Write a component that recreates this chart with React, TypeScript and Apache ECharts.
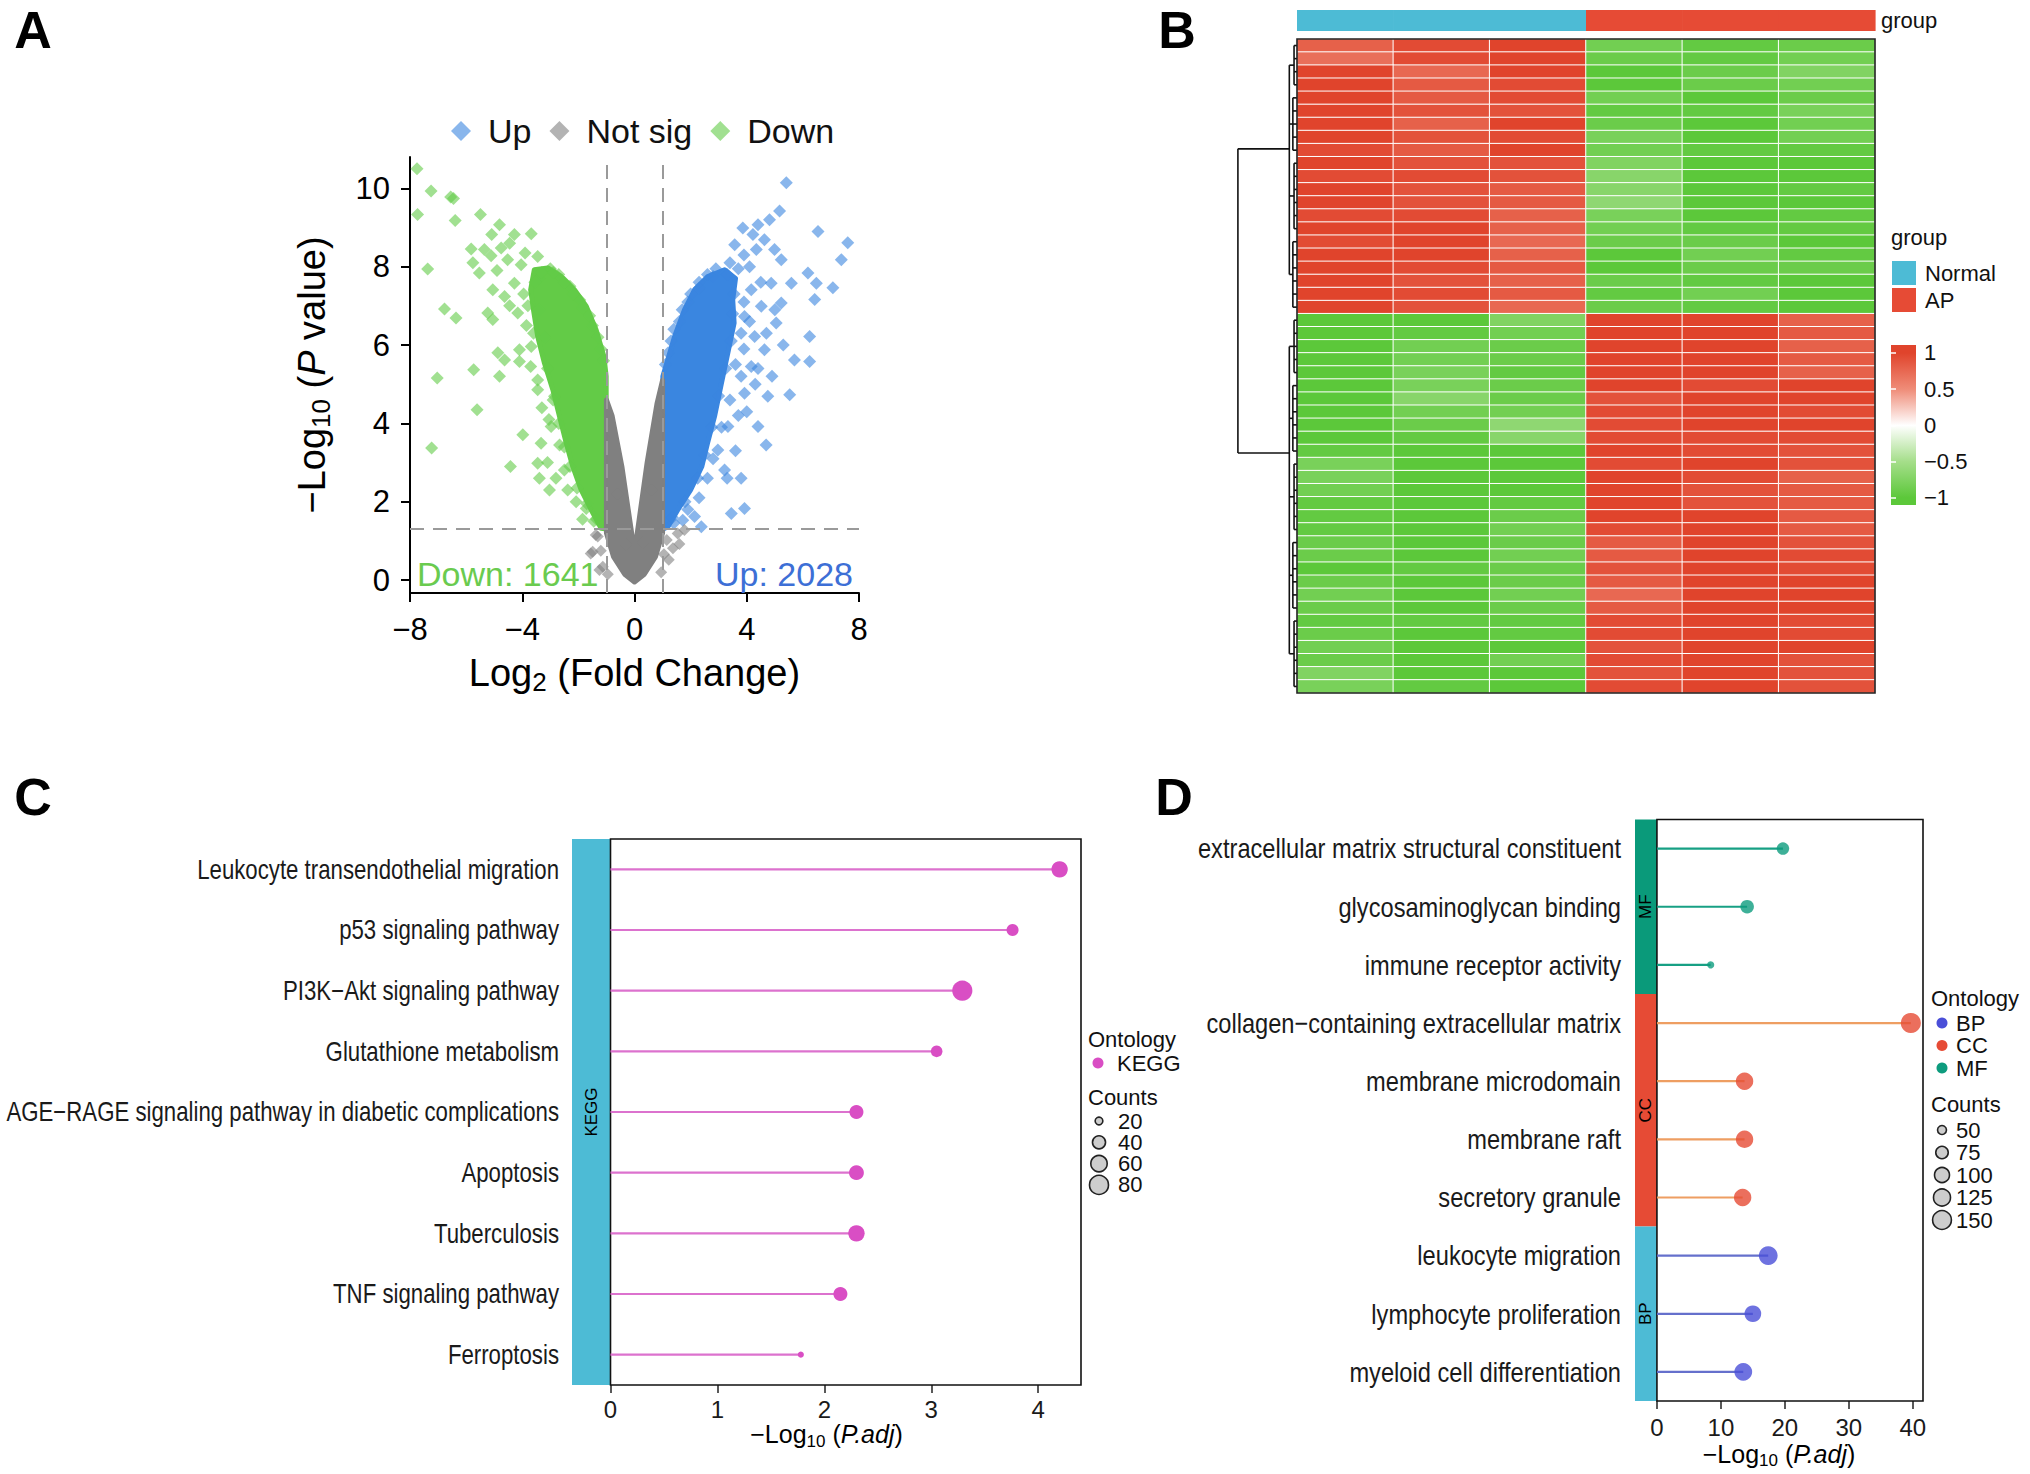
import React, { useEffect, useRef } from 'react';
import * as echarts from 'echarts';

const SANS = "'Liberation Sans', Arial, Helvetica, sans-serif";

// ---------------- Panel A : volcano ----------------
const volcanoLegend = ['Up', 'Not sig', 'Down'];
const upCount = 2028;
const downCount = 1641;
const fcCut = 1;
const pCut = 1.301;
const volcanoYTicks = [0, 2, 4, 6, 8, 10];

const downPoints = [
  [-7.75, 10.5], [-7.25, 9.93], [-6.55, 9.78], [-6.45, 9.74], [-7.73, 9.33], [-6.39, 9.18], [-5.49, 9.33],
  [-4.81, 9.07], [-5.09, 8.82], [-4.28, 8.82], [-3.68, 8.84], [-5.82, 8.45], [-5.35, 8.44], [-4.75, 8.48],
  [-4.45, 8.6], [-5.76, 8.1], [-5.53, 7.84], [-5.11, 8.28], [-4.52, 8.18], [-4.04, 8.05], [-3.45, 8.26],
  [-3.9, 8.35], [-7.37, 7.94], [-5.05, 7.41], [-4.63, 7.24], [-4.28, 7.58], [-4.9, 7.9], [-6.77, 6.92],
  [-6.36, 6.69], [-5.23, 6.82], [-5.05, 6.65], [-4.16, 6.82], [-4.45, 7.0], [-3.95, 7.3], [-3.85, 6.5],
  [-4.87, 5.8], [-4.63, 5.62], [-4.1, 5.88], [-4.1, 5.58], [-4.81, 5.2], [-5.73, 5.37], [-7.03, 5.16],
  [-3.68, 5.96], [-3.45, 5.11], [-3.45, 4.86], [-3.7, 5.45], [-3.3, 4.4], [-5.61, 4.35], [-3.98, 3.71],
  [-7.23, 3.37], [-4.42, 2.9], [-3.33, 3.49], [-3.45, 2.98], [-3.39, 2.6], [-3.03, 2.3], [-2.97, 3.92],
  [-2.67, 3.45], [-2.85, 4.69], [-3.05, 4.1], [-2.5, 2.81], [-2.38, 2.3], [-2.08, 2.0], [-1.72, 1.83],
  [-1.85, 1.55], [-1.45, 1.5], [-2.8, 2.6], [-3.1, 3.0], [-3.6, 6.3], [-3.8, 7.0], [-3.4, 7.7],
  [-3.0, 7.95], [-2.7, 7.8], [-2.3, 7.5], [-1.95, 7.15], [-1.6, 6.75], [-1.3, 6.2], [-1.1, 5.6],
  [-3.55, 7.6], [-3.3, 7.85], [-2.9, 7.85], [-2.5, 7.6], [-2.2, 7.3], [-1.85, 6.95], [-1.5, 6.5], [-1.2, 5.9],
  [-3.4, 6.9], [-3.2, 6.2], [-3.1, 5.4], [-2.9, 4.6], [-2.7, 4.0], [-2.5, 3.4], [-2.3, 2.9], [-2.05, 2.35],
  [-1.7, 1.95], [-1.35, 1.55],
];

const upPoints = [
  [5.41, 10.14], [5.17, 9.42], [3.86, 8.99], [4.4, 9.07], [4.81, 9.2], [6.54, 8.9], [7.6, 8.61], [7.37, 8.18],
  [3.57, 8.56], [4.22, 8.82], [4.63, 8.69], [4.34, 8.44], [4.99, 8.44], [5.23, 8.18], [6.18, 7.84], [6.48, 7.58],
  [7.07, 7.46], [6.42, 7.16], [5.59, 7.58], [5.23, 7.07], [5.05, 6.56], [5.7, 5.62], [6.24, 5.58], [6.24, 6.22],
  [5.53, 4.73], [4.75, 4.69], [4.69, 3.45], [4.4, 3.92], [3.8, 2.6], [3.45, 1.7], [3.92, 1.83], [2.14, 1.62],
  [2.38, 1.36], [1.72, 1.53], [2.97, 3.32], [3.21, 2.81], [3.92, 4.77], [4.16, 5.45], [4.63, 5.88], [4.28, 6.22],
  [3.92, 6.73], [4.52, 6.99], [4.87, 7.58], [4.16, 7.41], [3.33, 3.92], [3.9, 8.3], [4.1, 8.0], [3.7, 7.95],
  [3.4, 8.1], [2.9, 7.95], [2.6, 7.8], [2.3, 7.6], [2.0, 7.3], [1.7, 6.9], [1.4, 6.4], [1.2, 5.8], [3.9, 7.1],
  [3.8, 6.3], [3.6, 5.5], [3.4, 4.6], [3.1, 3.9], [2.8, 3.1], [2.6, 2.6], [2.3, 2.1], [1.9, 1.8], [1.4, 1.45],
  [4.3, 5.0], [4.0, 4.3], [3.6, 3.3], [3.3, 2.6], [4.5, 7.6], [5.0, 6.9], [4.7, 6.3], [4.4, 5.4], [3.7, 4.2],
  [4.9, 5.2], [5.3, 6.0], [1.1, 5.5], [1.3, 6.1], [1.6, 6.6], [1.9, 7.1], [2.3, 7.45], [2.8, 7.75], [3.3, 7.8],
  [3.55, 7.3], [3.5, 6.8], [3.45, 6.1], [3.25, 5.4], [3.0, 4.7], [2.75, 3.9], [2.5, 3.2], [2.25, 2.6],
  [1.8, 2.0], [1.35, 1.6], [3.9, 5.9], [4.1, 6.6], [3.8, 5.2],
];

const notSigPoints = [
  [-1.31, 1.11], [-1.49, 0.72], [-1.25, 0.26], [-1.13, 0.34], [-1.56, 0.68], [-1.38, 1.15], [-1.2, 0.75],
  [1.37, 0.81], [1.54, 1.19], [1.78, 1.28], [1.05, 0.66], [1.22, 0.52], [1.6, 0.92], [1.15, 1.02],
  [-0.95, 0.15], [0.95, 0.2], [-0.85, 3.8], [0.88, 4.2], [-0.6, 2.2], [0.6, 2.3], [-0.3, 0.9], [0.3, 0.95],
];

// outlines of the dense (overplotted) point clouds
const downCore = [
  [-3.57, 7.92], [-3.09, 7.97], [-2.61, 7.75], [-2.14, 7.41], [-1.72, 6.99], [-1.37, 6.39], [-1.09, 5.71],
  [-1.01, 5.2], [-1.0, 1.3], [-1.19, 1.32], [-1.54, 1.79], [-1.9, 2.3], [-2.2, 2.9], [-2.43, 3.49],
  [-2.67, 4.17], [-2.91, 4.86], [-3.21, 5.54], [-3.45, 6.22], [-3.6, 6.9], [-3.7, 7.41],
];
const upCore = [
  [1.01, 5.2], [1.43, 6.22], [1.78, 6.9], [2.14, 7.41], [2.61, 7.75], [3.21, 7.92], [3.6, 7.7], [3.5, 7.16],
  [3.55, 6.56], [3.35, 5.88], [3.1, 5.03], [2.85, 4.17], [2.6, 3.49], [2.4, 2.9], [2.0, 2.3], [1.54, 1.79],
  [1.19, 1.36], [1.01, 1.3],
];
const notSigCore = [
  [-1.0, 4.6], [-1.0, 1.2], [-0.75, 0.6], [-0.35, 0.15], [0, -0.05], [0.35, 0.15], [0.75, 0.6], [1.0, 1.2],
  [1.0, 5.1], [0.8, 4.5], [0.45, 3.0], [0.05, 0.95], [-0.05, 0.95], [-0.45, 2.9], [-0.8, 4.2],
];

// ---------------- Panel B : heatmap ----------------
const samples = ['N1', 'N2', 'N3', 'AP1', 'AP2', 'AP3'];
const sampleGroup = ['Normal', 'Normal', 'Normal', 'AP', 'AP', 'AP'];
const groupLevels = ['Normal', 'AP'];
const colorbarTicks = [-1, -0.5, 0, 0.5, 1];
const heatRows = [
  [0.8, 0.95, 1.05, -0.85, -0.95, -0.9],
  [0.7, 0.95, 1.15, -0.9, -0.95, -0.85],
  [1.1, 0.75, 1.0, -1.0, -0.9, -0.75],
  [1.05, 0.85, 0.95, -1.05, -0.9, -0.85],
  [1.0, 0.85, 0.95, -0.85, -1.1, -0.9],
  [1.05, 0.9, 0.9, -0.95, -0.95, -0.8],
  [1.05, 0.8, 1.0, -0.9, -1.05, -0.85],
  [1.0, 0.9, 0.95, -0.8, -1.1, -0.85],
  [0.95, 0.85, 1.0, -0.85, -0.95, -0.95],
  [1.0, 0.9, 0.9, -0.75, -1.0, -1.0],
  [0.95, 0.95, 0.9, -0.7, -1.05, -1.05],
  [1.0, 0.9, 0.85, -0.7, -1.0, -0.95],
  [1.05, 0.9, 0.85, -0.65, -1.05, -1.0],
  [0.95, 0.95, 0.8, -0.8, -1.0, -0.95],
  [1.0, 1.1, 0.8, -0.85, -0.95, -0.95],
  [0.95, 1.15, 0.75, -0.9, -0.9, -1.0],
  [1.0, 1.05, 0.8, -1.0, -0.85, -0.95],
  [1.05, 0.95, 0.85, -1.0, -0.9, -0.9],
  [1.1, 0.9, 0.8, -0.9, -0.95, -1.0],
  [1.05, 0.95, 0.85, -0.95, -0.85, -1.0],
  [1.05, 0.9, 0.75, -0.9, -0.95, -1.0],
  [-1.0, -1.0, -0.75, 1.1, 1.05, 0.8],
  [-1.0, -0.95, -0.85, 1.1, 1.0, 0.85],
  [-1.1, -0.85, -0.9, 1.15, 1.0, 0.8],
  [-1.0, -0.85, -0.9, 1.1, 1.05, 0.85],
  [-1.05, -0.8, -0.95, 1.1, 1.05, 0.8],
  [-1.05, -0.8, -0.9, 1.0, 0.95, 1.0],
  [-1.1, -0.7, -0.9, 0.9, 1.0, 1.05],
  [-1.05, -0.85, -0.85, 0.95, 1.0, 0.95],
  [-1.1, -0.9, -0.65, 0.95, 1.0, 1.05],
  [-1.0, -0.95, -0.7, 0.95, 0.95, 0.95],
  [-0.95, -1.0, -1.0, 1.0, 0.95, 0.9],
  [-0.8, -1.05, -1.05, 0.95, 1.0, 0.9],
  [-0.8, -1.0, -1.0, 1.1, 0.95, 0.8],
  [-0.85, -1.0, -1.0, 1.15, 0.9, 0.85],
  [-0.95, -1.0, -0.95, 1.1, 0.9, 0.85],
  [-0.95, -1.0, -0.9, 1.0, 1.05, 0.85],
  [-0.95, -1.05, -0.85, 0.95, 1.1, 0.85],
  [-0.9, -1.0, -0.9, 0.85, 1.15, 0.9],
  [-0.9, -1.05, -0.85, 0.85, 1.1, 0.95],
  [-1.0, -0.95, -0.9, 0.9, 1.05, 0.95],
  [-0.9, -1.0, -0.9, 0.85, 1.1, 1.0],
  [-0.85, -1.05, -0.85, 0.75, 1.05, 1.1],
  [-0.9, -1.0, -0.9, 0.85, 1.0, 1.05],
  [-0.95, -0.95, -0.95, 0.95, 1.0, 0.95],
  [-0.9, -1.0, -0.95, 0.95, 1.0, 0.95],
  [-0.85, -1.0, -1.0, 0.9, 1.0, 1.0],
  [-0.9, -1.05, -0.85, 0.95, 1.05, 0.9],
  [-0.75, -1.0, -1.0, 0.9, 1.1, 0.9],
  [-0.8, -0.95, -1.0, 0.95, 1.1, 0.9],
];
// row dendrogram: leaf groups (1-based rows), their merge heights, and the two clusters
const dendroGroups = [[1, 4], [5, 9], [10, 15], [16, 21], [22, 26], [27, 32], [33, 38], [39, 44], [45, 50]];
const dendroGroupH = [0.05, 0.07, 0.05, 0.07, 0.05, 0.07, 0.05, 0.07, 0.05];
const dendroClusters = [
  { groups: [0, 1, 2, 3], h: 0.13, join: 8.4 },
  { groups: [4, 5, 6, 7, 8], h: 0.13, join: 31.65 },
];
const dendroRootH = 1.0;

// ---------------- Panel C : KEGG ----------------
const keggTerms = [
  'Leukocyte transendothelial migration', 'p53 signaling pathway', 'PI3K\u2212Akt signaling pathway',
  'Glutathione metabolism', 'AGE\u2212RAGE signaling pathway in diabetic complications', 'Apoptosis',
  'Tuberculosis', 'TNF signaling pathway', 'Ferroptosis',
];
const keggLogP = [4.2, 3.76, 3.29, 3.05, 2.3, 2.3, 2.3, 2.15, 1.78];
const keggCounts = [60, 35, 90, 33, 45, 50, 60, 45, 17];
const keggTicks = [0, 1, 2, 3, 4];
const keggCountBreaks = [20, 40, 60, 80];

// ---------------- Panel D : GO ----------------
const goTerms = [
  'extracellular matrix structural constituent', 'glycosaminoglycan binding', 'immune receptor activity',
  'collagen\u2212containing extracellular matrix', 'membrane microdomain', 'membrane raft', 'secretory granule',
  'leukocyte migration', 'lymphocyte proliferation', 'myeloid cell differentiation',
];
const goOntology = ['MF', 'MF', 'MF', 'CC', 'CC', 'CC', 'CC', 'BP', 'BP', 'BP'];
const goLogP = [19.7, 14.1, 8.4, 39.7, 13.7, 13.7, 13.4, 17.4, 15.0, 13.5];
const goCounts = [75, 85, 42, 170, 130, 130, 130, 150, 120, 135];
const goTicks = [0, 10, 20, 30, 40];
const goCountBreaks = [50, 75, 100, 125, 150];
const ontologyLevels = ['BP', 'CC', 'MF'];

// ---------------- styles ----------------
const C_DOWN = '#63CB47';
const C_UP = '#3A86E0';
const C_NS = '#808080';
const GROUP_COLOR: Record<string, string> = { Normal: '#4DBBD5', AP: '#E64B35' };
const HEAT_COLORS = ['#5CC83A', '#A5DE8A', '#FFFFFF', '#EF8C78', '#E0442C'];
const HEAT_LIM = 1.0;
const KEGG_DOT = '#D94EC4';
const KEGG_LINE = '#DC72CE';
const ONT_DOT: Record<string, string> = { BP: '#4A4FD8', CC: '#E64B35', MF: '#0E9C7E' };
const ONT_LINE: Record<string, string> = { BP: '#6570CC', CC: '#EE9E62', MF: '#17A084' };
const ONT_STRIP: Record<string, string> = { BP: '#4DBBD5', CC: '#E64B35', MF: '#0A9A7A' };

const minus = (v: any) => String(v).replace('-', '\u2212');
const sizeC = (c: number) => 3.4 * (1 + 5 * Math.sqrt(Math.max(0, (c - 15) / 77)));
const sizeD = (c: number) => 3.4 * (1 + 5 * Math.sqrt(Math.max(0, (c - 35) / 140)));

function richTitle(size: number, sub: number, family: string) {
  return {
    n: { fontSize: size, fontFamily: family, color: '#000', lineHeight: size + 6 },
    i: { fontSize: size, fontFamily: family, color: '#000', fontStyle: 'italic', lineHeight: size + 6 },
    s: { fontSize: sub, fontFamily: family, color: '#000', lineHeight: Math.round(sub * 0.7), verticalAlign: 'bottom' },
  };
}

function polygonSeries(pts: number[][], color: string, z: number) {
  return {
    type: 'custom', xAxisIndex: 0, yAxisIndex: 0, z, silent: true, data: [[0, 0]],
    renderItem: (_p: any, api: any) => ({
      type: 'polygon',
      shape: { points: pts.map((p) => api.coord(p)) },
      style: { fill: color, stroke: color, lineWidth: 5, lineJoin: 'round' },
    }),
  };
}

// condensed category labels (the reference uses a narrow face)
function narrowLabels(xi: number, yi: number, terms: string[], size: number, scale: number, gap: number) {
  return {
    type: 'custom', xAxisIndex: xi, yAxisIndex: yi, silent: true, clip: false, z: 5,
    data: terms.map((_, i) => [0, i]),
    renderItem: (params: any, api: any) => {
      const i = api.value(1);
      const c = api.coord([0, i]);
      return {
        type: 'text', x: params.coordSys.x - gap, y: c[1], scaleX: scale,
        style: { text: terms[i], fontSize: size, fontFamily: SANS, fill: '#1a1a1a', align: 'right', verticalAlign: 'middle' },
      };
    },
  };
}

function buildDendroSegments() {
  const segs: number[][] = [];
  const mids: number[] = [];
  dendroGroups.forEach(([r1, r2], g) => {
    const h = dendroGroupH[g];
    for (let r = r1; r <= r2; r++) segs.push([0, r - 0.5, h, r - 0.5]);
    segs.push([h, r1 - 0.5, h, r2 - 0.5]);
    mids.push((r1 + r2) / 2 - 0.5);
  });
  dendroClusters.forEach((cl) => {
    const ms = cl.groups.map((g) => mids[g]);
    cl.groups.forEach((g) => segs.push([dendroGroupH[g], mids[g], cl.h, mids[g]]));
    segs.push([cl.h, Math.min(...ms), cl.h, Math.max(...ms)]);
    segs.push([cl.h, cl.join, dendroRootH, cl.join]);
  });
  segs.push([dendroRootH, dendroClusters[0].join, dendroRootH, dendroClusters[1].join]);
  return segs;
}

function buildOption() {
  const g = (left: number, top: number, width: number, height: number) =>
    ({ left, top, width, height, containLabel: false, outerBoundsMode: 'none' });
  const grid = [
    g(410, 157, 449, 436),
    g(1297, 39, 578, 654),
    g(1297, 10, 578, 21),
    g(1232, 39, 65, 654),
    g(1891, 345, 25, 160),
    g(572, 839, 509, 546),
    g(1635, 819.5, 288, 581.5),
  ];

  const lolliY = (terms: string[]) => ({
    type: 'category', data: terms, inverse: true,
    axisLine: { show: false },
    axisTick: { show: true, length: 8, alignWithLabel: true, lineStyle: { color: '#222', width: 1.5 } },
    axisLabel: { show: false },
    splitLine: { show: false },
  });
  const lolliX = (min: number, max: number, ticks: number[], gap: number, margin: number) => ({
    type: 'value', min, max,
    axisLine: { show: false, onZero: false },
    axisTick: { show: true, length: 8, customValues: ticks, lineStyle: { color: '#222', width: 1.5 } },
    axisLabel: { customValues: ticks, fontSize: 24, color: '#1a1a1a', margin },
    splitLine: { show: false },
    name: '{n|\u2212Log}{s|10}{n| (}{i|P.adj}{n|)}',
    nameLocation: 'middle', nameGap: gap,
    nameTextStyle: { rich: richTitle(25, 17, SANS) },
  });

  const xAxis: any[] = [
    {
      gridIndex: 0, type: 'value', min: -8, max: 8, interval: 4,
      axisLine: { onZero: false, lineStyle: { color: '#000', width: 2 } },
      axisTick: { length: 9, lineStyle: { color: '#000', width: 2 } },
      axisLabel: { fontSize: 31, color: '#000', margin: 21, formatter: minus },
      splitLine: { show: false },
      name: '{n|Log}{s|2}{n| (Fold Change)}', nameLocation: 'middle', nameGap: 58,
      nameTextStyle: { rich: richTitle(38, 26, SANS) },
    },
    { gridIndex: 1, type: 'category', data: samples, show: false },
    { gridIndex: 2, type: 'category', data: samples, show: false },
    { gridIndex: 3, type: 'value', min: 0, max: 1.1, inverse: true, show: false },
    { gridIndex: 4, type: 'value', min: 0, max: 1, show: false },
    { gridIndex: 5, ...lolliX(-0.36, 4.4, keggTicks, 30, 12) },
    { gridIndex: 6, ...lolliX(-3.43, 41.6, goTicks, 37, 14) },
  ];

  const yAxis: any[] = [
    {
      gridIndex: 0, type: 'value', min: -0.33, max: 10.8,
      axisLine: { show: true, onZero: false, lineStyle: { color: '#000', width: 2 } },
      axisTick: { show: true, length: 9, customValues: volcanoYTicks, lineStyle: { color: '#000', width: 2 } },
      axisLabel: { customValues: volcanoYTicks, fontSize: 31, color: '#000', margin: 20 },
      splitLine: { show: false },
      name: '{n|\u2212Log}{s|10}{n| (}{i|P}{n| value)}', nameLocation: 'middle', nameGap: 76, nameRotate: 90,
      nameTextStyle: { rich: richTitle(38, 26, SANS) },
    },
    { gridIndex: 1, type: 'category', data: heatRows.map((_, i) => 'gene' + (i + 1)), inverse: true, show: false },
    {
      gridIndex: 2, type: 'category', data: ['group'], position: 'right',
      axisLine: { show: false }, axisTick: { show: false },
      axisLabel: { fontSize: 22, color: '#111', margin: 6 },
    },
    { gridIndex: 3, type: 'value', min: 0, max: 50, inverse: true, show: false },
    {
      gridIndex: 4, type: 'value', min: -1.1, max: 1.11, position: 'right', z: 10,
      axisLine: { show: false },
      axisTick: { show: true, inside: true, length: 5, customValues: colorbarTicks, lineStyle: { color: '#fff', width: 1.5 } },
      axisLabel: { customValues: colorbarTicks, fontSize: 22, color: '#111', margin: 8, formatter: minus },
      splitLine: { show: false },
    },
    {
      gridIndex: 4, type: 'value', min: -1.1, max: 1.11, position: 'left', z: 10,
      axisLine: { show: false },
      axisTick: { show: true, inside: true, length: 5, customValues: colorbarTicks, lineStyle: { color: '#fff', width: 1.5 } },
      axisLabel: { show: false }, splitLine: { show: false },
    },
    { gridIndex: 5, ...lolliY(keggTerms) },
    { gridIndex: 6, ...lolliY(goTerms) },
  ];

  const heatData: number[][] = [];
  heatRows.forEach((row, r) => row.forEach((v, c) => heatData.push([c, r, v])));

  // colour-bar gradient matching the visualMap stops
  const cbMax = 1.11, cbMin = -1.1;
  const stopVals = [HEAT_LIM, HEAT_LIM / 2, 0, -HEAT_LIM / 2, -HEAT_LIM];
  const cbStops = stopVals.map((v, k) => ({ offset: (cbMax - v) / (cbMax - cbMin), color: HEAT_COLORS[4 - k] }));

  const series: any[] = [
    polygonSeries(downCore, C_DOWN, 2),
    polygonSeries(upCore, C_UP, 2),
    {
      type: 'scatter', name: 'Down', xAxisIndex: 0, yAxisIndex: 0, data: downPoints, symbol: 'diamond',
      symbolSize: 13, itemStyle: { color: C_DOWN, opacity: 0.6 }, z: 3,
    },
    {
      type: 'scatter', name: 'Up', xAxisIndex: 0, yAxisIndex: 0, data: upPoints, symbol: 'diamond',
      symbolSize: 13, itemStyle: { color: C_UP, opacity: 0.6 }, z: 3,
    },
    polygonSeries(notSigCore, C_NS, 3),
    {
      type: 'scatter', name: 'Not sig', xAxisIndex: 0, yAxisIndex: 0, data: notSigPoints, symbol: 'diamond',
      symbolSize: 12, itemStyle: { color: C_NS, opacity: 0.6 }, z: 4,
      markLine: {
        silent: true, symbol: ['none', 'none'], label: { show: false },
        lineStyle: { color: '#9a9a9a', type: [14, 9], width: 2 },
        data: [{ xAxis: -fcCut }, { xAxis: fcCut }, { yAxis: pCut }],
      },
    },
    {
      type: 'heatmap', xAxisIndex: 1, yAxisIndex: 1, data: heatData,
      itemStyle: { borderColor: '#ffffff', borderWidth: 1 },
    },
    {
      type: 'custom', xAxisIndex: 1, yAxisIndex: 1, z: 6, silent: true, data: [[0, 0]],
      renderItem: (params: any) => {
        const cs = params.coordSys;
        return { type: 'rect', shape: { x: cs.x, y: cs.y, width: cs.width, height: cs.height }, style: { fill: 'none', stroke: '#222', lineWidth: 1.6 } };
      },
    },
    {
      type: 'custom', xAxisIndex: 2, yAxisIndex: 2, silent: true,
      data: samples.map((_, i) => [i, 0]),
      renderItem: (params: any, api: any) => {
        const i = api.value(0);
        const c = api.coord([i, 0]);
        const bw = api.size([1, 0])[0];
        const cs = params.coordSys;
        return { type: 'rect', shape: { x: c[0] - bw / 2, y: cs.y, width: bw + 0.6, height: cs.height }, style: { fill: GROUP_COLOR[sampleGroup[i]] } };
      },
    },
    {
      type: 'custom', xAxisIndex: 3, yAxisIndex: 3, silent: true,
      data: buildDendroSegments(),
      renderItem: (_p: any, api: any) => {
        const a = api.coord([api.value(0), api.value(1)]);
        const b = api.coord([api.value(2), api.value(3)]);
        return { type: 'line', shape: { x1: a[0], y1: a[1], x2: b[0], y2: b[1] }, style: { stroke: '#111', lineWidth: 1.6 } };
      },
    },
    {
      type: 'custom', xAxisIndex: 4, yAxisIndex: 4, silent: true, z: 1, data: [[0, 0]],
      renderItem: (params: any) => {
        const cs = params.coordSys;
        return {
          type: 'rect', shape: { x: cs.x, y: cs.y, width: cs.width, height: cs.height },
          style: { fill: new echarts.graphic.LinearGradient(0, 0, 0, 1, cbStops) },
        };
      },
    },
    // Panel C strip + frame
    {
      type: 'custom', xAxisIndex: 5, yAxisIndex: 6, silent: true, z: 1, data: [[0, 0]],
      renderItem: (params: any, api: any) => {
        const cs = params.coordSys;
        const x0 = api.coord([0, 0])[0];
        return {
          type: 'group', children: [
            { type: 'rect', shape: { x: cs.x, y: cs.y, width: x0 - cs.x, height: cs.height }, style: { fill: '#4DBBD5' } },
            { type: 'text', x: (cs.x + x0) / 2, y: cs.y + cs.height / 2, rotation: Math.PI / 2, style: { text: 'KEGG', fontSize: 17, fontFamily: SANS, fill: '#000', align: 'center', verticalAlign: 'middle' } },
            { type: 'rect', shape: { x: x0, y: cs.y, width: cs.x + cs.width - x0, height: cs.height }, style: { fill: 'none', stroke: '#111', lineWidth: 1.6 } },
          ],
        };
      },
    },
    {
      type: 'custom', xAxisIndex: 5, yAxisIndex: 6, silent: true, z: 2,
      data: keggLogP.map((v, i) => [v, i]),
      renderItem: (_p: any, api: any) => {
        const i = api.value(1);
        const a = api.coord([0, i]);
        const b = api.coord([api.value(0), i]);
        return { type: 'line', shape: { x1: a[0], y1: a[1], x2: b[0], y2: b[1] }, style: { stroke: KEGG_LINE, lineWidth: 2.2 } };
      },
    },
    {
      type: 'scatter', xAxisIndex: 5, yAxisIndex: 6, z: 3, silent: true,
      data: keggLogP.map((v, i) => [v, i, keggCounts[i]]),
      symbolSize: (d: number[]) => sizeC(d[2]),
      itemStyle: { color: KEGG_DOT, opacity: 1 },
    },
    narrowLabels(5, 6, keggTerms, 27, 0.823, 13),
    // Panel D strip + frame
    {
      type: 'custom', xAxisIndex: 6, yAxisIndex: 7, silent: true, z: 1, data: [[0, 0]],
      renderItem: (params: any, api: any) => {
        const cs = params.coordSys;
        const x0 = api.coord([0, 0])[0];
        const bh = api.size([0, 1])[1];
        const children: any[] = [];
        ['MF', 'CC', 'BP'].forEach((ont) => {
          const idx = goOntology.map((o, i) => (o === ont ? i : -1)).filter((i) => i >= 0);
          const top = api.coord([0, idx[0]])[1] - bh / 2;
          const bot = api.coord([0, idx[idx.length - 1]])[1] + bh / 2;
          children.push({ type: 'rect', shape: { x: cs.x, y: top, width: x0 - cs.x, height: bot - top }, style: { fill: ONT_STRIP[ont] } });
          children.push({ type: 'text', x: (cs.x + x0) / 2, y: (top + bot) / 2, rotation: Math.PI / 2, style: { text: ont, fontSize: 17, fontFamily: SANS, fill: '#000', align: 'center', verticalAlign: 'middle' } });
        });
        children.push({ type: 'rect', shape: { x: x0, y: cs.y, width: cs.x + cs.width - x0, height: cs.height }, style: { fill: 'none', stroke: '#111', lineWidth: 1.6 } });
        return { type: 'group', children };
      },
    },
    {
      type: 'custom', xAxisIndex: 6, yAxisIndex: 7, silent: true, z: 2,
      data: goLogP.map((v, i) => [v, i]),
      renderItem: (_p: any, api: any) => {
        const i = api.value(1);
        const a = api.coord([0, i]);
        const b = api.coord([api.value(0), i]);
        return { type: 'line', shape: { x1: a[0], y1: a[1], x2: b[0], y2: b[1] }, style: { stroke: ONT_LINE[goOntology[i]], lineWidth: 2.2 } };
      },
    },
    {
      type: 'scatter', xAxisIndex: 6, yAxisIndex: 7, z: 3, silent: true,
      data: goLogP.map((v, i) => ({ value: [v, i, goCounts[i]], itemStyle: { color: ONT_DOT[goOntology[i]] } })),
      symbolSize: (d: number[]) => sizeD(d[2]),
    },
    narrowLabels(6, 7, goTerms, 28.5, 0.83, 14),
  ];

  const heatIndex = series.findIndex((s) => s.type === 'heatmap');

  const txt = (text: string, x: number, y: number, size: number, extra: any = {}) => ({
    type: 'text', x, y, z: 100,
    style: { text, fontSize: size, fontFamily: SANS, fill: '#111', align: 'left', verticalAlign: 'middle', ...extra },
  });
  const legendCircle = (x: number, y: number, d: number) => ({
    type: 'circle', z: 100, shape: { cx: x, cy: y, r: d / 2 },
    style: { fill: '#CDCDCD', stroke: '#222', lineWidth: 1.6 },
  });

  const graphic: any[] = [
    txt('A', 33, 30, 52, { fontWeight: 'bold', align: 'center', fill: '#000' }),
    txt('B', 1177, 30, 52, { fontWeight: 'bold', align: 'center', fill: '#000' }),
    txt('C', 33, 797, 52, { fontWeight: 'bold', align: 'center', fill: '#000' }),
    txt('D', 1174, 797, 52, { fontWeight: 'bold', align: 'center', fill: '#000' }),
    txt('Down: ' + downCount, 417, 574, 34, { fill: '#6ACB4F' }),
    txt('Up: ' + upCount, 853, 574, 34, { fill: '#3D6FD6', align: 'right' }),
    // heatmap group legend
    txt('group', 1891, 237, 22),
    ...groupLevels.flatMap((gname, k) => [
      { type: 'rect', z: 100, shape: { x: 1892, y: 261 + k * 27, width: 24, height: 24 }, style: { fill: GROUP_COLOR[gname] } },
      txt(gname, 1925, 273 + k * 27, 22),
    ]),
    // panel C legend
    txt('Ontology', 1088, 1039, 22),
    { type: 'circle', z: 100, shape: { cx: 1098, cy: 1063, r: 5.5 }, style: { fill: KEGG_DOT } },
    txt('KEGG', 1117, 1063, 22),
    txt('Counts', 1088, 1097, 22),
    ...keggCountBreaks.flatMap((b, k) => [legendCircle(1099, 1121 + k * 21.3, sizeC(b)), txt(String(b), 1118, 1121 + k * 21.3, 22)]),
    // panel D legend
    txt('Ontology', 1931, 998, 22),
    ...ontologyLevels.flatMap((o, k) => [
      { type: 'circle', z: 100, shape: { cx: 1942, cy: 1023 + k * 22.5, r: 5.5 }, style: { fill: ONT_DOT[o] } },
      txt(o, 1956, 1023 + k * 22.5, 22),
    ]),
    txt('Counts', 1931, 1104, 22),
    ...goCountBreaks.flatMap((b, k) => [legendCircle(1942, 1130 + k * 22.5, sizeD(b)), txt(String(b), 1956, 1130 + k * 22.5, 22)]),
  ];

  return {
    animation: false,
    backgroundColor: '#ffffff',
    textStyle: { fontFamily: SANS },
    grid,
    xAxis,
    yAxis,
    legend: {
      data: volcanoLegend, left: 451, top: 114, padding: 0, icon: 'diamond',
      itemWidth: 20, itemHeight: 20, itemGap: 18, selectedMode: false,
      textStyle: { fontSize: 34, color: '#111', fontFamily: SANS, padding: [0, 0, 0, 12] },
    },
    visualMap: {
      type: 'continuous', show: false, seriesIndex: heatIndex, dimension: 2,
      min: -HEAT_LIM, max: HEAT_LIM, inRange: { color: HEAT_COLORS },
    },
    series,
    graphic,
  };
}

export default function App() {
  const ref = useRef<HTMLDivElement>(null);
  useEffect(() => {
    document.body.style.margin = '0';
    const chart = echarts.init(ref.current as HTMLDivElement, null, { renderer: 'svg' });
    chart.setOption(buildOption() as any);
    return () => chart.dispose();
  }, []);
  return <div ref={ref} style={{ width: 2030, height: 1474, background: '#fff' }} />;
}
